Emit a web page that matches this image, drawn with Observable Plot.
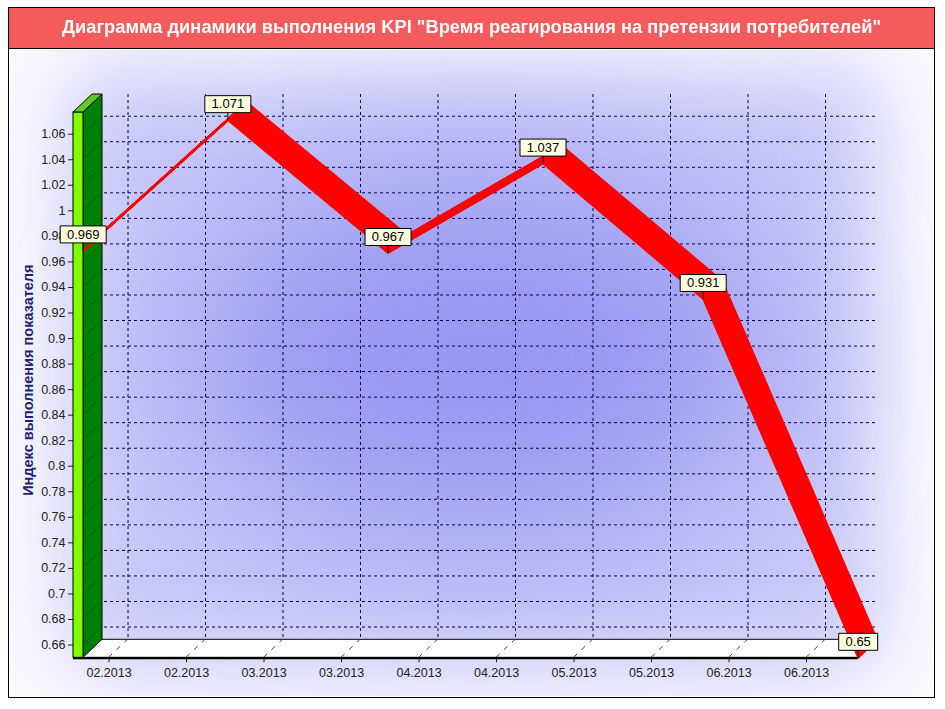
<!DOCTYPE html>
<html>
<head>
<meta charset="utf-8">
<script src="https://cdn.jsdelivr.net/npm/d3@7"></script>
<script src="https://cdn.jsdelivr.net/npm/@observablehq/plot@0.6"></script>
<style>
  body { margin: 0; background: #fff; }
  #wrap { position: relative; width: 945px; height: 709px; overflow: hidden; font-family: "Liberation Sans", Arial, sans-serif; }
  #bg { position: absolute; left: 9px; top: 50px; width: 924px; height: 646px; }
  #title { position: absolute; left: 9px; top: 8px; width: 925px; height: 41px; box-sizing: border-box;
           background: #f55b5b; border-bottom: 1px solid #000; color: #fff; font-weight: bold; font-size: 19px;
           line-height: 37px; text-align: center; white-space: nowrap; }
  #tt { display: inline-block; transform-origin: 50% 50%; }
  #frame { position: absolute; left: 8px; top: 7px; width: 927px; height: 691px; box-sizing: border-box;
           border: 1px solid #000; pointer-events: none; }
  #chart { position: absolute; left: 0; top: 50px; }
</style>
</head>
<body>
<div id="wrap">
  <div id="bg">
    <svg width="924" height="646" style="display:block">
      <defs>
        <filter id="blurA" filterUnits="userSpaceOnUse" x="-300" y="-300" width="1524" height="1246">
          <feGaussianBlur stdDeviation="42"/>
        </filter>
        <filter id="blurB" filterUnits="userSpaceOnUse" x="-300" y="-300" width="1524" height="1246">
          <feGaussianBlur stdDeviation="85"/>
        </filter>
      </defs>
      <rect width="924" height="646" fill="#fbfbff"/>
      <rect x="60" y="20" width="810" height="600" fill="#c8c8f8" filter="url(#blurA)"/>
      <ellipse cx="470" cy="305" rx="300" ry="185" fill="#9797f2" filter="url(#blurB)"/>
    </svg>
  </div>
  <div id="title"><span id="tt"></span></div>
  <div id="chart"></div>
  <div id="frame"></div>
</div>
<script>
// ---- data ----
const titleText = "Диаграмма динамики выполнения KPI \"Время реагирования на претензии потребителей\"";
const yLabel = "Индекс выполнения показателя";
const months = ["2013-01-31", "2013-02-28", "2013-03-31", "2013-04-30", "2013-05-31", "2013-06-30"];
const kpiValues = [0.969, 1.071, 0.967, 1.037, 0.931, 0.65];
const valueLabels = ["0.969", "1.071", "0.967", "1.037", "0.931", "0.65"];
const xTickDates = ["2013-02-05", "2013-02-20", "2013-03-07", "2013-03-22", "2013-04-06",
                    "2013-04-21", "2013-05-06", "2013-05-21", "2013-06-05", "2013-06-20"];
const xTickLabels = ["02.2013", "02.2013", "03.2013", "03.2013", "04.2013",
                     "04.2013", "05.2013", "05.2013", "06.2013", "06.2013"];
const yTicks = [0.66, 0.68, 0.7, 0.72, 0.74, 0.76, 0.78, 0.8, 0.82, 0.84, 0.86, 0.88,
                0.9, 0.92, 0.94, 0.96, 0.98, 1, 1.02, 1.04, 1.06];

// ---- build ----
document.getElementById("tt").textContent = titleText;
{
  const span = document.getElementById("tt");
  const w = span.getBoundingClientRect().width;
  span.style.transform = `scaleX(${819 / w})`;
}

const data = months.map((m, i) => ({date: new Date(m), value: kpiValues[i], label: valueLabels[i]}));
const tickDates = xTickDates.map(d => new Date(d));
const labelByTime = new Map(tickDates.map((d, i) => [+d, xTickLabels[i]]));

const DX = 19, DY = -18;   // pseudo-3D depth offset
const gridStyle = {stroke: "#00004a", strokeDasharray: "3,3", strokeWidth: 1};

function boxSymbol(w, h = 17, off = 16) {
  return {draw(ctx) { ctx.rect(-w / 2, -h / 2, w, h); ctx.moveTo(0, h / 2); ctx.lineTo(0, off); }};
}

const N = 26;
const ribbon = d3.range(N + 1).map(i =>
  Plot.line(data, {x: "date", y: "value", dx: DX * i / N, dy: DY * i / N,
    stroke: "#ff0000", strokeWidth: 1.8, strokeLinejoin: "round"}));

const plot = Plot.plot({
  width: 945, height: 659,
  marginLeft: 73, marginRight: 87.3, marginTop: 62, marginBottom: 51.7,
  x: {type: "utc", domain: [new Date(Date.UTC(2013, 0, 29, 3)), new Date(Date.UTC(2013, 5, 30))]},
  y: {domain: [0.65, 1.077]},
  style: {background: "transparent", fontFamily: "'Liberation Sans', Arial, sans-serif", overflow: "visible"},
  marks: [
    Plot.ruleY(yTicks, {...gridStyle, dx: DX, dy: DY}),
    Plot.ruleX(tickDates, {...gridStyle, dx: DX, dy: DY}),
    Plot.axisY({ticks: yTicks, tickFormat: d => String(d), tickSize: 5, tickPadding: 3,
                fontSize: 12.5, color: "#222", label: null}),
    Plot.axisX({ticks: tickDates, tickFormat: d => labelByTime.get(+d), tickSize: 5, tickPadding: 5,
                fontSize: 12.5, color: "#222", label: null}),
    ...ribbon,
    Plot.dot(data, {x: "date", y: "value", filter: d => d.label.length >= 5, symbol: boxSymbol(46),
                    r: 1, fill: "#ffffe0", stroke: "#000", strokeWidth: 1, dy: -16}),
    Plot.dot(data, {x: "date", y: "value", filter: d => d.label.length < 5, symbol: boxSymbol(39),
                    r: 1, fill: "#ffffe0", stroke: "#000", strokeWidth: 1, dy: -16}),
    Plot.text(data, {x: "date", y: "value", text: "label", dy: -16, fontSize: 13, fill: "#000"}),
    Plot.text([yLabel], {frameAnchor: "left", textAnchor: "middle", dx: -45, dy: -5, rotate: -90,
                         fontSize: 14.5, fontWeight: "bold", fill: "#1f1f73"})
  ]
});
document.getElementById("chart").appendChild(plot);

// ---- 3D wall & floor, positioned through the plot's scales ----
const sx = plot.scale("x"), sy = plot.scale("y");
const x0 = sx.apply(sx.domain[0]), x1 = sx.apply(sx.domain[1]);
const yB = sy.apply(sy.domain[0]), yT = sy.apply(sy.domain[1]);
const T = 10;
const deco = d3.create("svg:g");
// floor
deco.append("path")
  .attr("d", `M${x0},${yB}L${x1},${yB}L${x1 + DX},${yB + DY}L${x0 + DX},${yB + DY}Z`)
  .attr("fill", "#fff").attr("stroke", "#000").attr("stroke-width", 1);
deco.selectAll(".fd").data(tickDates).join("line")
  .attr("x1", d => sx.apply(d)).attr("y1", yB)
  .attr("x2", d => sx.apply(d) + DX).attr("y2", yB + DY)
  .attr("stroke", "#444").attr("stroke-dasharray", "5,6");
deco.append("line").attr("x1", x0).attr("x2", x1).attr("y1", yB + 0.8).attr("y2", yB + 0.8)
  .attr("stroke", "#000").attr("stroke-width", 2.4);
// wall side face
deco.append("path")
  .attr("d", `M${x0 + T},${yT}L${x0 + T + DX},${yT + DY}L${x0 + T + DX},${yB + DY}L${x0 + T},${yB}Z`)
  .attr("fill", "#008000").attr("stroke", "#000").attr("stroke-width", 1);
deco.selectAll(".wd").data(yTicks).join("line")
  .attr("x1", x0 + T).attr("y1", d => sy.apply(d))
  .attr("x2", x0 + T + DX).attr("y2", d => sy.apply(d) + DY)
  .attr("stroke", "#004400").attr("stroke-dasharray", "2,2");
// wall front face
deco.append("rect").attr("x", x0).attr("y", yT).attr("width", T).attr("height", yB - yT)
  .attr("fill", "#80ff00").attr("stroke", "#000").attr("stroke-width", 1);
// wall top face
deco.append("path")
  .attr("d", `M${x0},${yT}L${x0 + T},${yT}L${x0 + T + DX},${yT + DY}L${x0 + DX},${yT + DY}Z`)
  .attr("fill", "#5cc82a").attr("stroke", "#000").attr("stroke-width", 1);

const firstRibbon = plot.querySelector('g[aria-label="line"]');
plot.insertBefore(deco.node(), firstRibbon);
</script>
</body>
</html>
